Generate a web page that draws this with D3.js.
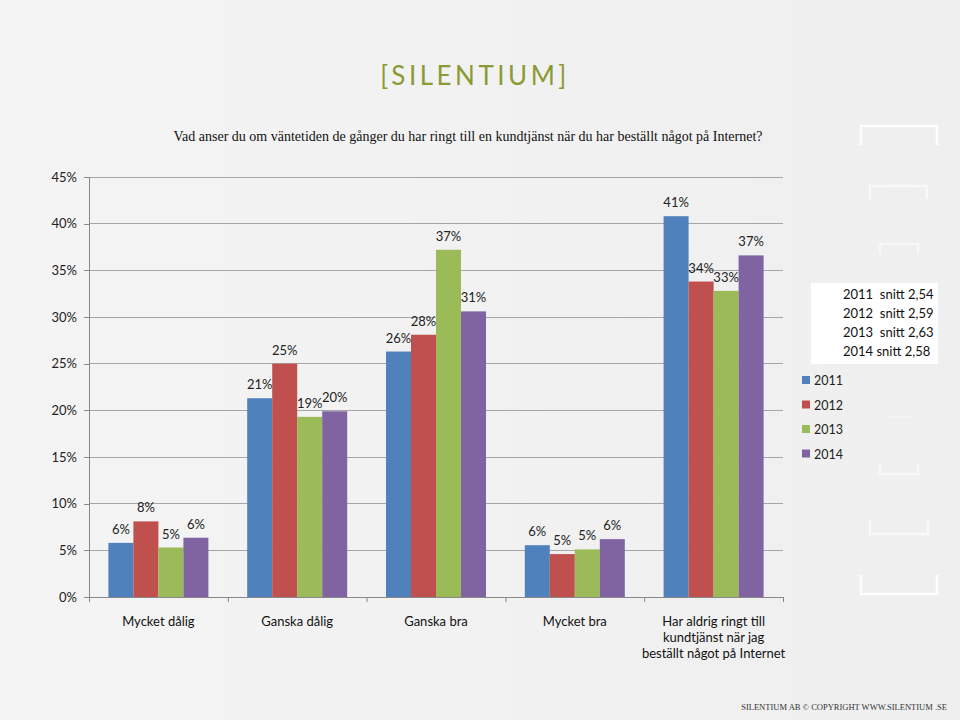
<!DOCTYPE html>
<html><head><meta charset="utf-8">
<script src="https://cdn.jsdelivr.net/npm/d3@7"></script>
<style>
html,body{margin:0;padding:0;background:#f2f2f2;}
svg{display:block;}
</style></head>
<body>
<svg id="chart" width="960" height="720"></svg>
<script>
const categories = ["Mycket dålig", "Ganska dålig", "Ganska bra", "Mycket bra", "Har aldrig ringt till\nkundtjänst när jag\nbeställt något på Internet"];
const series = ["2011", "2012", "2013", "2014"];
const values2011 = [5.8, 21.3, 26.3, 5.55, 40.8];
const values2012 = [8.1, 25.0, 28.1, 4.6, 33.8];
const values2013 = [5.3, 19.3, 37.2, 5.1, 32.8];
const values2014 = [6.35, 19.9, 30.6, 6.2, 36.6];
const averages = ["2011  snitt 2,54", "2012  snitt 2,59", "2013  snitt 2,63", "2014 snitt 2,58"];
const yTicks = [0, 5, 10, 15, 20, 25, 30, 35, 40, 45];
const colors = ["#4f81bd", "#c0504d", "#9bbb59", "#8064a2"];
const title = "Vad anser du om väntetiden de gånger du har ringt till en kundtjänst när du har beställt något på Internet?";

const allValues = [values2011, values2012, values2013, values2014];
const svg = d3.select("#chart");
const font = "Lato, 'Open Sans', sans-serif";

// background
const grad = svg.append("defs").append("linearGradient").attr("id","bg").attr("x1",0).attr("x2",1).attr("y1",0).attr("y2",0);
grad.append("stop").attr("offset","0%").attr("stop-color","#f4f4f4");
grad.append("stop").attr("offset","100%").attr("stop-color","#efefef");
svg.append("rect").attr("width",960).attr("height",720).attr("fill","url(#bg)");

// decorative brackets on the right
const brackets = [
  {x1:861,x2:937,y:126,dir:1,h:19,o:0.9},
  {x1:870,x2:927,y:186,dir:1,h:13,o:0.6},
  {x1:880,x2:918,y:244,dir:1,h:10,o:0.5},
  {x1:888,x2:910,y:417,dir:-1,h:0,o:0.3},
  {x1:880,x2:918,y:474,dir:-1,h:10,o:0.5},
  {x1:870,x2:928,y:534,dir:-1,h:14,o:0.6},
  {x1:861,x2:937,y:594,dir:-1,h:19,o:0.9}
];
brackets.forEach(b => {
  const p = d3.path();
  p.moveTo(b.x1, b.y + b.dir*b.h); p.lineTo(b.x1, b.y); p.lineTo(b.x2, b.y); p.lineTo(b.x2, b.y + b.dir*b.h);
  svg.append("path").attr("d", p.toString()).attr("fill","none").attr("stroke","#ffffff").attr("stroke-width",2.5).attr("opacity",b.o);
});

// logo
svg.append("text").attr("x",475).attr("y",85).attr("text-anchor","middle")
  .attr("font-family","Lato, 'Open Sans', sans-serif").attr("font-size",26).attr("letter-spacing",3.5)
  .attr("fill","#8c9a35").text("[SILENTIUM]");

// title
svg.append("text").attr("x",468).attr("y",141).attr("text-anchor","middle")
  .attr("font-family","'Liberation Serif', 'DejaVu Serif', serif").attr("font-size",14)
  .attr("fill","#111").text(title);

const plotLeft = 89, plotRight = 783, plotTop = 177, plotBottom = 597;
const y = d3.scaleLinear().domain([0,45]).range([plotBottom, plotTop]);
const x0 = d3.scaleBand().domain(categories).range([plotLeft, plotRight]).padding(0);
const x1 = d3.scaleBand().domain(series).range([0, x0.bandwidth()]).paddingInner(0).paddingOuter(0.776);

// gridlines
svg.append("g").selectAll("line").data(yTicks.filter(t=>t>0)).join("line")
  .attr("x1",plotLeft).attr("x2",plotRight).attr("y1",d=>y(d)).attr("y2",d=>y(d))
  .attr("stroke","#a6a6a6").attr("stroke-width",1).attr("shape-rendering","crispEdges");

// y axis
const yAxis = d3.axisLeft(y).tickValues(yTicks).tickFormat(d=>d+"%").tickSize(5).tickPadding(7);
const gy = svg.append("g").attr("transform",`translate(${plotLeft},0)`).call(yAxis);
gy.select(".domain").attr("stroke","#888").attr("shape-rendering","crispEdges");
gy.selectAll(".tick line").attr("stroke","#888").attr("shape-rendering","crispEdges");
gy.selectAll(".tick text").attr("font-family",font).attr("font-size",13).attr("fill","#222");

// bars
const groups = svg.append("g").selectAll("g").data(categories).join("g")
  .attr("transform", d=>`translate(${x0(d)},0)`);
groups.selectAll("rect").data((d,i)=>series.map((s,j)=>({s, v: allValues[j][i], j}))).join("rect")
  .attr("x", d=>x1(d.s)).attr("width", x1.bandwidth())
  .attr("y", d=>y(d.v)).attr("height", d=>plotBottom - y(d.v))
  .attr("fill", d=>colors[d.j]);
groups.selectAll("text.lbl").data((d,i)=>series.map((s,j)=>({s, v: allValues[j][i], j}))).join("text")
  .attr("class","lbl")
  .attr("x", d=>x1(d.s) + x1.bandwidth()/2).attr("y", d=>y(d.v) - 9)
  .attr("text-anchor","middle").attr("font-family",font).attr("font-size",13).attr("fill","#222")
  .text(d=>Math.round(d.v)+"%");

// x axis
svg.append("line").attr("x1",plotLeft).attr("x2",plotRight).attr("y1",plotBottom+0.5).attr("y2",plotBottom+0.5).attr("stroke","#888");
const bounds = categories.map(c=>x0(c)).concat([plotRight]);
svg.append("g").selectAll("line").data(bounds).join("line")
  .attr("x1",d=>d+0.5).attr("x2",d=>d+0.5).attr("y1",plotBottom).attr("y2",plotBottom+5).attr("stroke","#888");
const xl = svg.append("g").selectAll("text").data(categories).join("text")
  .attr("x", d=>x0(d)+x0.bandwidth()/2).attr("y", 626)
  .attr("text-anchor","middle").attr("font-family",font).attr("font-size",13).attr("fill","#111");
xl.each(function(d){
  const lines = d.split("\n");
  d3.select(this).selectAll("tspan").data(lines).join("tspan")
    .attr("x", x0(d)+x0.bandwidth()/2).attr("dy",(l,i)=>i===0?0:16).text(l=>l);
});

// legend
const leg = svg.append("g").selectAll("g").data(series).join("g")
  .attr("transform",(d,i)=>`translate(802,${381 + i*24.5})`);
leg.append("rect").attr("x",0).attr("y",-5).attr("width",8).attr("height",8).attr("fill",(d,i)=>colors[i]);
leg.append("text").attr("x",12).attr("y",4).attr("font-family",font).attr("font-size",12.5).attr("fill","#222").text(d=>d);

// averages box
svg.append("rect").attr("x",811).attr("y",283).attr("width",127).attr("height",81).attr("fill","#ffffff");
svg.append("g").selectAll("text").data(averages).join("text")
  .attr("x",843).attr("y",(d,i)=>299 + i*19).attr("font-family",font).attr("font-size",13).attr("fill","#111")
  .attr("xml:space","preserve").style("white-space","pre").text(d=>d);

// footer
svg.append("text").attr("x",947).attr("y",710).attr("text-anchor","end")
  .attr("font-family","'Liberation Serif', serif").attr("font-size",8.5).attr("fill","#333")
  .text("SILENTIUM AB © COPYRIGHT WWW.SILENTIUM .SE");
</script>
</body></html>
